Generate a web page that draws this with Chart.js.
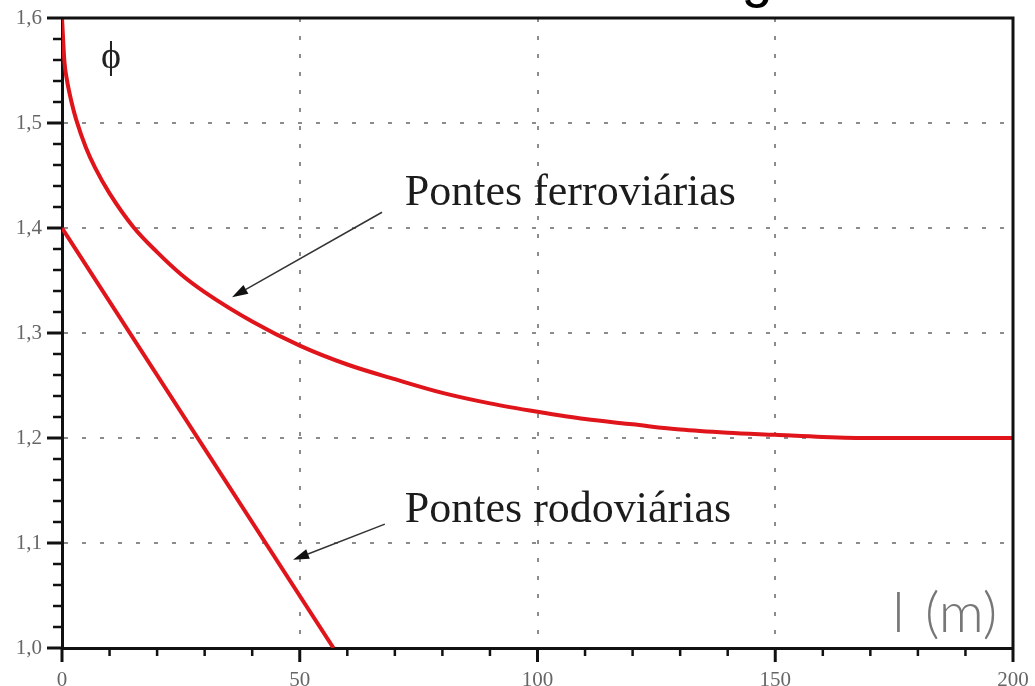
<!DOCTYPE html>
<html>
<head>
<meta charset="utf-8">
<script src="https://cdn.jsdelivr.net/npm/chart.js@4.4.1/dist/chart.umd.min.js"></script>
<style>
  html, body { margin: 0; padding: 0; background: #fff; }
  #wrap { width: 1035px; height: 686px; }
</style>
</head>
<body>
<div id="wrap"><canvas id="chart" width="1035" height="686"></canvas></div>
<script>
// vão l (m) x coeficiente de impacto phi
const spanFerro = [0, 0.5, 1, 2, 3, 5, 7, 10, 15, 20, 25, 30, 40, 50, 60, 70, 80, 90, 100, 110, 120, 130, 140, 150, 160, 170, 180, 190, 200];
const phiFerro = [1.600, 1.559, 1.542, 1.520, 1.503, 1.477, 1.457, 1.433, 1.401, 1.377, 1.356, 1.339, 1.311, 1.288, 1.270, 1.256, 1.243, 1.233, 1.225, 1.218, 1.213, 1.208, 1.205, 1.203, 1.201, 1.200, 1.200, 1.200, 1.200];
const spanRodo = [0, 57.1];
const phiRodo = [1.4, 1.0];

const xTicks = [0, 50, 100, 150, 200];
const xLabels = ["0", "50", "100", "150", "200"];
const yTicks = [1.0, 1.1, 1.2, 1.3, 1.4, 1.5, 1.6];
const yLabels = ["1,0", "1,1", "1,2", "1,3", "1,4", "1,5", "1,6"];

const notes = [
  { text: "Pontes ferroviárias", x: 72.1, y: 1.422 },
  { text: "Pontes rodoviárias", x: 72.1, y: 1.120 }
];
const arrows = [
  { from: [67.3, 1.415], to: [35.75, 1.334] },
  { from: [67.9, 1.118], to: [48.6, 1.084] }
];

const RED = "#e0141b";
const gridColor = "#8c8c8c";

const decor = {
  id: "decor",
  afterDraw(chart) {
    const ctx = chart.ctx;
    const xs = chart.scales.x, ys = chart.scales.y;
    const a = chart.chartArea;
    ctx.save();
    ctx.strokeStyle = "#111";
    ctx.lineCap = "butt";

    // frame top / right
    ctx.lineWidth = 3;
    ctx.beginPath();
    ctx.moveTo(a.left, a.top);
    ctx.lineTo(a.right, a.top);
    ctx.lineTo(a.right, a.bottom);
    ctx.stroke();

    // y ticks, minor every 0.02
    for (let i = 0; i <= 30; i++) {
      const y = ys.getPixelForValue(1 + i * 0.02);
      const major = i % 5 === 0;
      ctx.lineWidth = major ? 3 : 2.5;
      ctx.beginPath();
      ctx.moveTo(a.left - (major ? 15 : 9), y);
      ctx.lineTo(a.left, y);
      ctx.stroke();
    }
    // x ticks, minor every 10
    for (let i = 0; i <= 20; i++) {
      const x = xs.getPixelForValue(i * 10);
      const major = i % 5 === 0;
      ctx.lineWidth = major ? 3 : 2.5;
      ctx.beginPath();
      ctx.moveTo(x, a.bottom);
      ctx.lineTo(x, a.bottom + (major ? 14 : 8));
      ctx.stroke();
    }

    // arrows
    ctx.strokeStyle = "#333";
    ctx.fillStyle = "#111";
    arrows.forEach(ar => {
      const x1 = xs.getPixelForValue(ar.from[0]), y1 = ys.getPixelForValue(ar.from[1]);
      const x2 = xs.getPixelForValue(ar.to[0]), y2 = ys.getPixelForValue(ar.to[1]);
      const ang = Math.atan2(y2 - y1, x2 - x1);
      const len = 16, w = 5;
      const bx = x2 - len * Math.cos(ang), by = y2 - len * Math.sin(ang);
      ctx.lineWidth = 1.5;
      ctx.beginPath();
      ctx.moveTo(x1, y1);
      ctx.lineTo(bx, by);
      ctx.stroke();
      ctx.beginPath();
      ctx.moveTo(x2, y2);
      ctx.lineTo(bx + w * Math.sin(ang), by - w * Math.cos(ang));
      ctx.lineTo(bx - w * Math.sin(ang), by + w * Math.cos(ang));
      ctx.closePath();
      ctx.fill();
    });

    // labels
    ctx.fillStyle = "#1c1c1c";
    ctx.font = '44px "Liberation Serif"';
    ctx.textAlign = "left";
    ctx.textBaseline = "alphabetic";
    notes.forEach(n => {
      ctx.fillText(n.text, xs.getPixelForValue(n.x), ys.getPixelForValue(n.y));
    });

    ctx.font = '38px "Liberation Serif"';
    ctx.fillStyle = "#222";
    ctx.textAlign = "center";
    ctx.fillText("\u03D5", xs.getPixelForValue(10.3), ys.getPixelForValue(1.552));

    ctx.font = '300 56px Lato';
    ctx.fillStyle = "#777";
    ctx.textAlign = "left";
    ctx.fillText("l", xs.getPixelForValue(174.6), ys.getPixelForValue(1.015));
    ctx.fillText("(m)", xs.getPixelForValue(181.5), ys.getPixelForValue(1.015));

    // bit of the title cut off above
    ctx.font = '56px "Liberation Sans"';
    ctx.fillStyle = "#000";
    ctx.textAlign = "center";
    ctx.fillText("g", 757, -4);
    ctx.restore();
  }
};

new Chart(document.getElementById("chart"), {
  type: "line",
  data: {
    datasets: [
      {
        label: "Pontes ferroviárias",
        data: spanFerro.map((x, i) => ({ x: x, y: phiFerro[i] })),
        borderColor: RED,
        borderWidth: 4,
        pointRadius: 0,
        cubicInterpolationMode: "monotone",
        fill: false
      },
      {
        label: "Pontes rodoviárias",
        data: spanRodo.map((x, i) => ({ x: x, y: phiRodo[i] })),
        borderColor: RED,
        borderWidth: 4,
        pointRadius: 0,
        fill: false
      }
    ]
  },
  options: {
    responsive: false,
    animation: false,
    devicePixelRatio: 1,
    layout: { padding: { left: 0, right: 22, top: 18, bottom: 0 } },
    plugins: { legend: { display: false }, tooltip: { enabled: false } },
    scales: {
      x: {
        type: "linear",
        min: 0,
        max: 200,
        afterBuildTicks: s => { s.ticks = xTicks.map(v => ({ value: v })); },
        afterFit: s => { s.height = 38; s.paddingLeft = 0; s.paddingRight = 0; },
        ticks: {
          callback: (v, i) => xLabels[i],
          font: { family: "Liberation Serif", size: 21 },
          color: "#666",
          padding: 20,
          maxRotation: 0,
          autoSkip: false
        },
        grid: {
          color: c => (c.tick && c.tick.value > 0 && c.tick.value < 200) ? gridColor : "rgba(0,0,0,0)",
          lineWidth: 2,
          drawTicks: false
        },
        border: { color: "#111", width: 3, dash: [4, 14] }
      },
      y: {
        type: "linear",
        min: 1.0,
        max: 1.6,
        afterBuildTicks: s => { s.ticks = yTicks.map(v => ({ value: v })); },
        afterFit: s => { s.width = 62; s.paddingTop = 0; s.paddingBottom = 0; },
        ticks: {
          callback: (v, i) => yLabels[i],
          font: { family: "Liberation Serif", size: 21 },
          color: "#666",
          padding: 20,
          autoSkip: false
        },
        grid: {
          color: c => (c.tick && c.tick.value > 1.001 && c.tick.value < 1.599) ? gridColor : "rgba(0,0,0,0)",
          lineWidth: 2,
          drawTicks: false
        },
        border: { color: "#111", width: 3, dash: [4, 14] }
      }
    }
  },
  plugins: [decor]
});
</script>
</body>
</html>
